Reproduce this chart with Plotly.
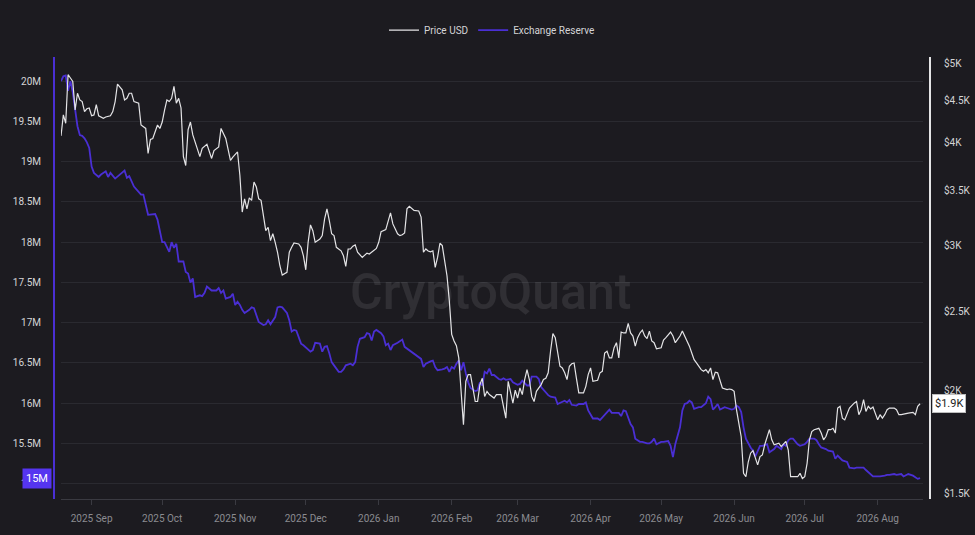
import numpy as np
import plotly.graph_objects as go

# ---------------- data ----------------
price_dates = [
    "2025-08-19", "2025-08-20", "2025-08-21", "2025-08-22", "2025-08-23", "2025-08-24", "2025-08-25", "2025-08-26",
    "2025-08-27", "2025-08-28", "2025-08-29", "2025-08-30", "2025-08-31", "2025-09-01", "2025-09-02", "2025-09-03",
    "2025-09-04", "2025-09-05", "2025-09-06", "2025-09-07", "2025-09-09", "2025-09-10", "2025-09-11", "2025-09-12",
    "2025-09-14", "2025-09-15", "2025-09-16", "2025-09-17", "2025-09-18", "2025-09-19", "2025-09-21", "2025-09-22",
    "2025-09-24", "2025-09-25", "2025-09-26", "2025-09-27", "2025-09-29", "2025-09-30", "2025-10-01", "2025-10-02",
    "2025-10-03", "2025-10-04", "2025-10-05", "2025-10-06", "2025-10-07", "2025-10-08", "2025-10-09", "2025-10-10",
    "2025-10-11", "2025-10-12", "2025-10-13", "2025-10-14", "2025-10-16", "2025-10-17", "2025-10-18", "2025-10-20",
    "2025-10-22", "2025-10-23", "2025-10-25", "2025-10-26", "2025-10-28", "2025-10-29", "2025-10-30", "2025-10-31",
    "2025-11-01", "2025-11-02", "2025-11-03", "2025-11-04", "2025-11-05", "2025-11-06", "2025-11-07", "2025-11-08",
    "2025-11-09", "2025-11-10", "2025-11-11", "2025-11-12", "2025-11-14", "2025-11-15", "2025-11-16", "2025-11-17",
    "2025-11-18", "2025-11-19", "2025-11-20", "2025-11-21", "2025-11-23", "2025-11-24", "2025-11-25", "2025-11-26",
    "2025-11-28", "2025-11-29", "2025-11-30", "2025-12-01", "2025-12-02", "2025-12-03", "2025-12-04", "2025-12-05",
    "2025-12-07", "2025-12-08", "2025-12-09", "2025-12-10", "2025-12-11", "2025-12-12", "2025-12-13", "2025-12-14",
    "2025-12-16", "2025-12-17", "2025-12-18", "2025-12-19", "2025-12-20", "2025-12-21", "2025-12-22", "2025-12-23",
    "2025-12-25", "2025-12-27", "2025-12-28", "2025-12-30", "2025-12-31", "2026-01-01", "2026-01-02", "2026-01-04",
    "2026-01-05", "2026-01-06", "2026-01-07", "2026-01-09", "2026-01-10", "2026-01-11", "2026-01-12", "2026-01-13",
    "2026-01-14", "2026-01-15", "2026-01-16", "2026-01-18", "2026-01-19", "2026-01-20", "2026-01-21", "2026-01-22",
    "2026-01-23", "2026-01-24", "2026-01-25", "2026-01-26", "2026-01-27", "2026-01-28", "2026-01-29", "2026-01-30",
    "2026-01-31", "2026-02-01", "2026-02-02", "2026-02-03", "2026-02-04", "2026-02-05", "2026-02-06", "2026-02-07",
    "2026-02-08", "2026-02-09", "2026-02-10", "2026-02-11", "2026-02-12", "2026-02-13", "2026-02-14", "2026-02-15",
    "2026-02-16", "2026-02-17", "2026-02-19", "2026-02-20", "2026-02-22", "2026-02-23", "2026-02-24", "2026-02-25",
    "2026-02-26", "2026-02-27", "2026-02-28", "2026-03-01", "2026-03-02", "2026-03-03", "2026-03-04", "2026-03-05",
    "2026-03-06", "2026-03-07", "2026-03-08", "2026-03-09", "2026-03-11", "2026-03-12", "2026-03-13", "2026-03-14",
    "2026-03-15", "2026-03-16", "2026-03-17", "2026-03-18", "2026-03-19", "2026-03-20", "2026-03-21", "2026-03-22",
    "2026-03-23", "2026-03-24", "2026-03-25", "2026-03-26", "2026-03-27", "2026-03-28", "2026-03-29", "2026-03-30",
    "2026-03-31", "2026-04-01", "2026-04-02", "2026-04-04", "2026-04-05", "2026-04-06", "2026-04-07", "2026-04-08",
    "2026-04-09", "2026-04-10", "2026-04-11", "2026-04-12", "2026-04-13", "2026-04-14", "2026-04-15", "2026-04-16",
    "2026-04-17", "2026-04-18", "2026-04-19", "2026-04-20", "2026-04-21", "2026-04-22", "2026-04-23", "2026-04-24",
    "2026-04-25", "2026-04-26", "2026-04-27", "2026-04-28", "2026-04-29", "2026-05-01", "2026-05-02", "2026-05-03",
    "2026-05-04", "2026-05-05", "2026-05-06", "2026-05-07", "2026-05-08", "2026-05-09", "2026-05-10", "2026-05-11",
    "2026-05-12", "2026-05-13", "2026-05-14", "2026-05-15", "2026-05-16", "2026-05-18", "2026-05-19", "2026-05-20",
    "2026-05-21", "2026-05-22", "2026-05-23", "2026-05-24", "2026-05-25", "2026-05-26", "2026-05-27", "2026-05-29",
    "2026-05-30", "2026-05-31", "2026-06-01", "2026-06-02", "2026-06-03", "2026-06-04", "2026-06-05", "2026-06-06",
    "2026-06-07", "2026-06-08", "2026-06-09", "2026-06-10", "2026-06-11", "2026-06-12", "2026-06-13", "2026-06-14",
    "2026-06-15", "2026-06-16", "2026-06-17", "2026-06-18", "2026-06-20", "2026-06-21", "2026-06-23", "2026-06-24",
    "2026-06-25", "2026-06-26", "2026-06-28", "2026-06-29", "2026-06-30", "2026-07-01", "2026-07-02", "2026-07-03",
    "2026-07-04", "2026-07-05", "2026-07-07", "2026-07-08", "2026-07-09", "2026-07-10", "2026-07-11", "2026-07-12",
    "2026-07-13", "2026-07-14", "2026-07-15", "2026-07-16", "2026-07-17", "2026-07-18", "2026-07-19", "2026-07-20",
    "2026-07-22", "2026-07-23", "2026-07-24", "2026-07-25", "2026-07-26", "2026-07-27", "2026-07-28", "2026-07-29",
    "2026-07-30", "2026-07-31", "2026-08-01", "2026-08-02", "2026-08-03", "2026-08-04", "2026-08-05", "2026-08-06",
    "2026-08-08", "2026-08-09", "2026-08-10", "2026-08-11", "2026-08-13", "2026-08-14", "2026-08-16", "2026-08-17",
    "2026-08-18", "2026-08-19",
]
price_usd = [
    4080, 4325, 4225, 4840, 4795, 4750, 4385, 4595,
    4510, 4490, 4365, 4400, 4410, 4315, 4325, 4450,
    4315, 4300, 4285, 4300, 4315, 4365, 4490, 4715,
    4640, 4510, 4530, 4595, 4595, 4490, 4470, 4205,
    4165, 3885, 4040, 4050, 4205, 4165, 4240, 4385,
    4510, 4490, 4530, 4685, 4470, 4530, 4410, 3850,
    3755, 4150, 4240, 4090, 3940, 3850, 3940, 3985,
    3830, 3915, 3955, 4165, 4050, 3915, 3810, 3845,
    3870, 3900, 3655, 3297, 3421, 3327, 3430, 3407,
    3586, 3536, 3421, 3407, 3130, 3160, 3044, 3103,
    3030, 2947, 2838, 2765, 2786, 2947, 2988, 3024,
    3016, 2988, 2918, 2806, 3030, 3181, 3130, 3030,
    3058, 3087, 3235, 3327, 3220, 3103, 3087, 2988,
    2959, 2918, 2833, 2974, 2974, 2997, 3008, 2947,
    2905, 2940, 2932, 2966, 2979, 3030, 3122, 3140,
    3220, 3290, 3190, 3103, 3087, 3095, 3110, 3327,
    3350, 3327, 3312, 3307, 3251, 2947, 2974, 2957,
    2950, 2959, 2825, 2905, 3022, 3002, 2877, 2760,
    2572, 2343, 2300, 2270, 2194, 2017, 1820, 2055,
    2094, 2094, 2017, 1942, 1942, 2036, 2072, 1970,
    1998, 1980, 1961, 1980, 1980, 1907, 1854, 2055,
    1998, 1933, 2005, 1961, 2017, 1980, 2065, 2123,
    2065, 1970, 1942, 1998, 2036, 2065, 2072, 2104,
    2235, 2348, 2321, 2214, 2143, 2133, 2104, 2065,
    2143, 2158, 2163, 2072, 1989, 1989, 1989, 2026,
    2094, 2133, 2055, 2061, 2104, 2113, 2224, 2235,
    2194, 2194, 2257, 2289, 2194, 2358, 2352, 2352,
    2416, 2352, 2332, 2267, 2321, 2352, 2371, 2332,
    2315, 2364, 2300, 2289, 2250, 2257, 2306, 2321,
    2343, 2358, 2332, 2289, 2310, 2332, 2365, 2332,
    2289, 2267, 2224, 2183, 2163, 2123, 2113, 2123,
    2104, 2133, 2065, 2108, 2104, 2065, 2017, 2008,
    2011, 2008, 1998, 1898, 1820, 1760, 1589, 1574,
    1640, 1681, 1693, 1657, 1627, 1665, 1673, 1721,
    1760, 1795, 1745, 1721, 1729, 1712, 1737, 1695,
    1574, 1574, 1574, 1589, 1566, 1574, 1634, 1745,
    1786, 1795, 1802, 1778, 1745, 1761, 1795, 1795,
    1802, 1778, 1907, 1916, 1854, 1845, 1880, 1907,
    1933, 1942, 1872, 1898, 1952, 1889, 1916, 1902,
    1912, 1880, 1845, 1872, 1854, 1872, 1898, 1907,
    1907, 1898, 1872, 1872, 1880, 1880, 1884, 1872,
    1916, 1930,
]

reserve_dates = [
    "2025-08-19", "2025-08-20", "2025-08-21", "2025-08-22", "2025-08-23", "2025-08-24", "2025-08-25", "2025-08-26",
    "2025-08-27", "2025-08-28", "2025-08-29", "2025-08-30", "2025-08-31", "2025-09-01", "2025-09-02", "2025-09-04",
    "2025-09-05", "2025-09-07", "2025-09-08", "2025-09-09", "2025-09-11", "2025-09-13", "2025-09-15", "2025-09-16",
    "2025-09-17", "2025-09-19", "2025-09-21", "2025-09-22", "2025-09-23", "2025-09-25", "2025-09-28", "2025-09-29",
    "2025-10-01", "2025-10-02", "2025-10-04", "2025-10-05", "2025-10-06", "2025-10-07", "2025-10-08", "2025-10-10",
    "2025-10-11", "2025-10-12", "2025-10-13", "2025-10-14", "2025-10-15", "2025-10-17", "2025-10-18", "2025-10-19",
    "2025-10-20", "2025-10-22", "2025-10-24", "2025-10-25", "2025-10-26", "2025-10-27", "2025-10-28", "2025-10-30",
    "2025-10-31", "2025-11-01", "2025-11-02", "2025-11-03", "2025-11-04", "2025-11-05", "2025-11-07", "2025-11-08",
    "2025-11-09", "2025-11-10", "2025-11-11", "2025-11-13", "2025-11-14", "2025-11-15", "2025-11-16", "2025-11-18",
    "2025-11-19", "2025-11-20", "2025-11-21", "2025-11-23", "2025-11-24", "2025-11-25", "2025-11-26", "2025-11-27",
    "2025-11-29", "2025-11-30", "2025-12-01", "2025-12-03", "2025-12-04", "2025-12-05", "2025-12-07", "2025-12-08",
    "2025-12-09", "2025-12-10", "2025-12-11", "2025-12-12", "2025-12-13", "2025-12-15", "2025-12-16", "2025-12-17",
    "2025-12-18", "2025-12-20", "2025-12-21", "2025-12-22", "2025-12-23", "2025-12-24", "2025-12-26", "2025-12-27",
    "2025-12-28", "2025-12-29", "2025-12-30", "2025-12-31", "2026-01-02", "2026-01-03", "2026-01-04", "2026-01-05",
    "2026-01-06", "2026-01-07", "2026-01-09", "2026-01-10", "2026-01-11", "2026-01-12", "2026-01-14", "2026-01-15",
    "2026-01-17", "2026-01-19", "2026-01-20", "2026-01-21", "2026-01-23", "2026-01-24", "2026-01-25", "2026-01-26",
    "2026-01-28", "2026-01-29", "2026-01-30", "2026-01-31", "2026-02-01", "2026-02-02", "2026-02-03", "2026-02-04",
    "2026-02-05", "2026-02-06", "2026-02-07", "2026-02-08", "2026-02-09", "2026-02-11", "2026-02-12", "2026-02-13",
    "2026-02-14", "2026-02-15", "2026-02-16", "2026-02-17", "2026-02-18", "2026-02-19", "2026-02-21", "2026-02-22",
    "2026-02-23", "2026-02-24", "2026-02-26", "2026-02-27", "2026-03-01", "2026-03-02", "2026-03-03", "2026-03-04",
    "2026-03-05", "2026-03-06", "2026-03-07", "2026-03-09", "2026-03-10", "2026-03-11", "2026-03-13", "2026-03-14",
    "2026-03-15", "2026-03-17", "2026-03-18", "2026-03-19", "2026-03-21", "2026-03-22", "2026-03-23", "2026-03-24",
    "2026-03-26", "2026-03-27", "2026-03-29", "2026-03-30", "2026-03-31", "2026-04-02", "2026-04-04", "2026-04-05",
    "2026-04-07", "2026-04-09", "2026-04-10", "2026-04-12", "2026-04-13", "2026-04-14", "2026-04-15", "2026-04-16",
    "2026-04-18", "2026-04-19", "2026-04-20", "2026-04-22", "2026-04-23", "2026-04-25", "2026-04-26", "2026-04-27",
    "2026-04-28", "2026-04-29", "2026-05-01", "2026-05-02", "2026-05-04", "2026-05-05", "2026-05-06", "2026-05-07",
    "2026-05-08", "2026-05-09", "2026-05-10", "2026-05-11", "2026-05-12", "2026-05-13", "2026-05-14", "2026-05-15",
    "2026-05-17", "2026-05-18", "2026-05-20", "2026-05-21", "2026-05-22", "2026-05-23", "2026-05-24", "2026-05-25",
    "2026-05-26", "2026-05-28", "2026-05-29", "2026-05-31", "2026-06-01", "2026-06-02", "2026-06-03", "2026-06-04",
    "2026-06-05", "2026-06-06", "2026-06-08", "2026-06-09", "2026-06-10", "2026-06-11", "2026-06-12", "2026-06-13",
    "2026-06-15", "2026-06-16", "2026-06-18", "2026-06-19", "2026-06-21", "2026-06-22", "2026-06-23", "2026-06-24",
    "2026-06-25", "2026-06-26", "2026-06-28", "2026-06-29", "2026-07-01", "2026-07-02", "2026-07-03", "2026-07-05",
    "2026-07-06", "2026-07-07", "2026-07-08", "2026-07-10", "2026-07-11", "2026-07-13", "2026-07-14", "2026-07-15",
    "2026-07-16", "2026-07-17", "2026-07-19", "2026-07-20", "2026-07-22", "2026-07-23", "2026-07-25", "2026-07-26",
    "2026-07-27", "2026-07-29", "2026-07-30", "2026-08-01", "2026-08-02", "2026-08-04", "2026-08-05", "2026-08-06",
    "2026-08-08", "2026-08-09", "2026-08-11", "2026-08-12", "2026-08-13", "2026-08-14", "2026-08-16", "2026-08-17",
    "2026-08-18", "2026-08-19",
]
reserve_millions = [
    20.00, 20.06, 20.07, 19.88, 20.00, 19.86, 19.65, 19.44,
    19.33, 19.32, 19.29, 19.24, 19.17, 18.94, 18.86, 18.81,
    18.84, 18.88, 18.81, 18.86, 18.79, 18.84, 18.89, 18.80,
    18.82, 18.69, 18.63, 18.59, 18.59, 18.34, 18.35, 18.28,
    18.00, 18.00, 17.88, 18.00, 17.93, 17.98, 17.76, 17.76,
    17.63, 17.61, 17.50, 17.55, 17.32, 17.34, 17.33, 17.37,
    17.45, 17.40, 17.40, 17.43, 17.37, 17.40, 17.30, 17.32,
    17.36, 17.22, 17.26, 17.22, 17.16, 17.12, 17.16, 17.19,
    17.18, 17.09, 17.01, 16.97, 16.98, 17.03, 16.98, 17.07,
    17.19, 17.20, 17.19, 17.12, 17.03, 16.89, 16.91, 16.90,
    16.74, 16.72, 16.69, 16.64, 16.66, 16.75, 16.74, 16.64,
    16.70, 16.71, 16.62, 16.51, 16.47, 16.39, 16.39, 16.42,
    16.47, 16.49, 16.47, 16.51, 16.70, 16.80, 16.82, 16.87,
    16.86, 16.78, 16.89, 16.91, 16.87, 16.83, 16.72, 16.74,
    16.66, 16.72, 16.75, 16.77, 16.79, 16.70, 16.66, 16.64,
    16.60, 16.55, 16.45, 16.49, 16.52, 16.53, 16.45, 16.41,
    16.42, 16.43, 16.45, 16.39, 16.45, 16.43, 16.49, 16.53,
    16.41, 16.51, 16.37, 16.26, 16.19, 16.15, 16.16, 16.26,
    16.22, 16.39, 16.37, 16.43, 16.35, 16.35, 16.30, 16.29,
    16.31, 16.29, 16.30, 16.26, 16.23, 16.24, 16.28, 16.25,
    16.22, 16.22, 16.33, 16.33, 16.30, 16.20, 16.13, 16.10,
    16.08, 16.07, 15.99, 16.00, 16.03, 16.01, 16.04, 15.98,
    15.97, 15.99, 15.99, 16.01, 15.91, 15.81, 15.81, 15.79,
    15.85, 15.92, 15.88, 15.88, 15.88, 15.84, 15.91, 15.90,
    15.74, 15.70, 15.56, 15.52, 15.52, 15.50, 15.50, 15.52,
    15.56, 15.49, 15.52, 15.52, 15.53, 15.47, 15.33, 15.49,
    15.58, 15.70, 15.91, 15.99, 16.00, 16.03, 16.01, 15.93,
    15.95, 15.95, 16.00, 16.08, 16.05, 15.92, 15.95, 15.99,
    15.92, 15.95, 15.94, 15.92, 15.93, 15.97, 15.95, 15.89,
    15.70, 15.56, 15.45, 15.41, 15.34, 15.41, 15.47, 15.47,
    15.49, 15.39, 15.43, 15.47, 15.43, 15.49, 15.47, 15.54,
    15.56, 15.56, 15.49, 15.47, 15.49, 15.52, 15.56, 15.56,
    15.54, 15.49, 15.45, 15.43, 15.41, 15.40, 15.31, 15.35,
    15.32, 15.29, 15.27, 15.20, 15.19, 15.20, 15.20, 15.20,
    15.17, 15.12, 15.09, 15.09, 15.09, 15.10, 15.11, 15.11,
    15.12, 15.11, 15.12, 15.09, 15.11, 15.12, 15.10, 15.08,
    15.06, 15.07,
]

month_ticks = ["2025-09-01", "2025-10-01", "2025-11-01", "2025-12-01", "2026-01-01", "2026-02-01",
               "2026-03-01", "2026-04-01", "2026-05-01", "2026-06-01", "2026-07-01", "2026-08-01"]
month_labels = ["2025 Sep", "2025 Oct", "2025 Nov", "2025 Dec", "2026 Jan", "2026 Feb",
                "2026 Mar", "2026 Apr", "2026 May", "2026 Jun", "2026 Jul", "2026 Aug"]
reserve_ticks = [15, 15.5, 16, 16.5, 17, 17.5, 18, 18.5, 19, 19.5, 20]
reserve_tick_labels = ["15M", "15.5M", "16M", "16.5M", "17M", "17.5M", "18M", "18.5M", "19M", "19.5M", "20M"]
price_ticks = [1500, 2000, 2500, 3000, 3500, 4000, 4500, 5000]
price_tick_labels = ["$1.5K", "$2K", "$2.5K", "$3K", "$3.5K", "$4K", "$4.5K", "$5K"]

# ---------------- styling ----------------
BG = "#1c1b20"
PURPLE = "#4a2fd4"
WHITE = "#e4e4e6"
FONT = "Roboto, Noto Sans, sans-serif"

fig = go.Figure()
fig.add_trace(go.Scatter(
    x=price_dates, y=price_usd, name="Price USD", mode="lines", yaxis="y2",
    line=dict(color=WHITE, width=1.2), hoverinfo="skip",
))
fig.add_trace(go.Scatter(
    x=reserve_dates, y=reserve_millions, name="Exchange Reserve", mode="lines", yaxis="y",
    line=dict(color=PURPLE, width=1.8), hoverinfo="skip",
))

fig.update_layout(
    width=975, height=535,
    paper_bgcolor=BG, plot_bgcolor=BG,
    margin=dict(l=54, r=45, t=57, b=36, autoexpand=False),
    font=dict(family=FONT, size=10, color="#d4d4d6"),
    showlegend=True,
    legend=dict(orientation="h", x=0.5, xanchor="center", y=1.061, yanchor="middle",
                font=dict(size=10, color="#d4d4d6"), bgcolor="rgba(0,0,0,0)",
                itemwidth=30, traceorder="normal"),
    xaxis=dict(
        domain=[7 / 876, 869 / 876], type="date", automargin=False,
        range=["2025-08-19", "2026-08-20 06:00"],
        tickvals=month_ticks, ticktext=month_labels,
        showgrid=False, zeroline=False,
        showline=True, linecolor="#3a3a41", linewidth=1,
        ticks="outside", ticklen=5, tickcolor="#3a3a41",
        ticklabelstandoff=5,
        tickfont=dict(color="#8b8b90", size=10),
    ),
    yaxis=dict(
        anchor="free", position=0, side="left", automargin=False,
        range=[14.81, 20.30],
        tickvals=reserve_ticks, ticktext=reserve_tick_labels,
        showgrid=True, gridcolor="#2a2a30", gridwidth=1, zeroline=False,
        showline=True, linecolor=PURPLE, linewidth=2,
        ticks="outside", ticklen=10, tickcolor="rgba(0,0,0,0)",
        tickfont=dict(color="#d4d4d6", size=10),
    ),
    yaxis2=dict(
        anchor="free", position=1, side="right", overlaying="y", type="log", automargin=False,
        range=[np.log10(1479), np.log10(5085)],
        tickvals=price_ticks, ticktext=price_tick_labels,
        showgrid=False, zeroline=False,
        showline=True, linecolor=WHITE, linewidth=2,
        ticks="outside", ticklen=11, tickcolor="rgba(0,0,0,0)",
        tickfont=dict(color="#d4d4d6", size=10),
    ),
)

# watermark
fig.add_annotation(
    text="CryptoQuant", xref="paper", yref="paper", x=0.498, y=0.468,
    showarrow=False,
    font=dict(family="Roboto, sans-serif", size=50, weight=500, color="rgba(255,255,255,0.09)"),
)

# last-value labels
fig.add_annotation(
    text=f"{reserve_millions[-1]:.0f}M", xref="paper", yref="y", x=0, y=reserve_millions[-1],
    xanchor="right", yanchor="middle", xshift=-2, showarrow=False,
    bgcolor="#5535f0", borderpad=3, font=dict(color="#ffffff", size=11),
)
fig.add_annotation(
    text=f"${price_usd[-1] / 1000:.1f}K", xref="paper", yref="y2", x=1, y=np.log10(price_usd[-1]),
    xanchor="left", yanchor="middle", xshift=2, showarrow=False,
    bgcolor="#ffffff", bordercolor="#bdbdbd", borderwidth=1, borderpad=2,
    font=dict(color="#1c1b20", size=11),
)

fig.write_html(
    "out.html",
    config={"displayModeBar": False, "staticPlot": False},
    post_script="document.body.style.margin='0px';document.body.style.overflow='hidden';"
                "document.documentElement.style.overflow='hidden';",
)
